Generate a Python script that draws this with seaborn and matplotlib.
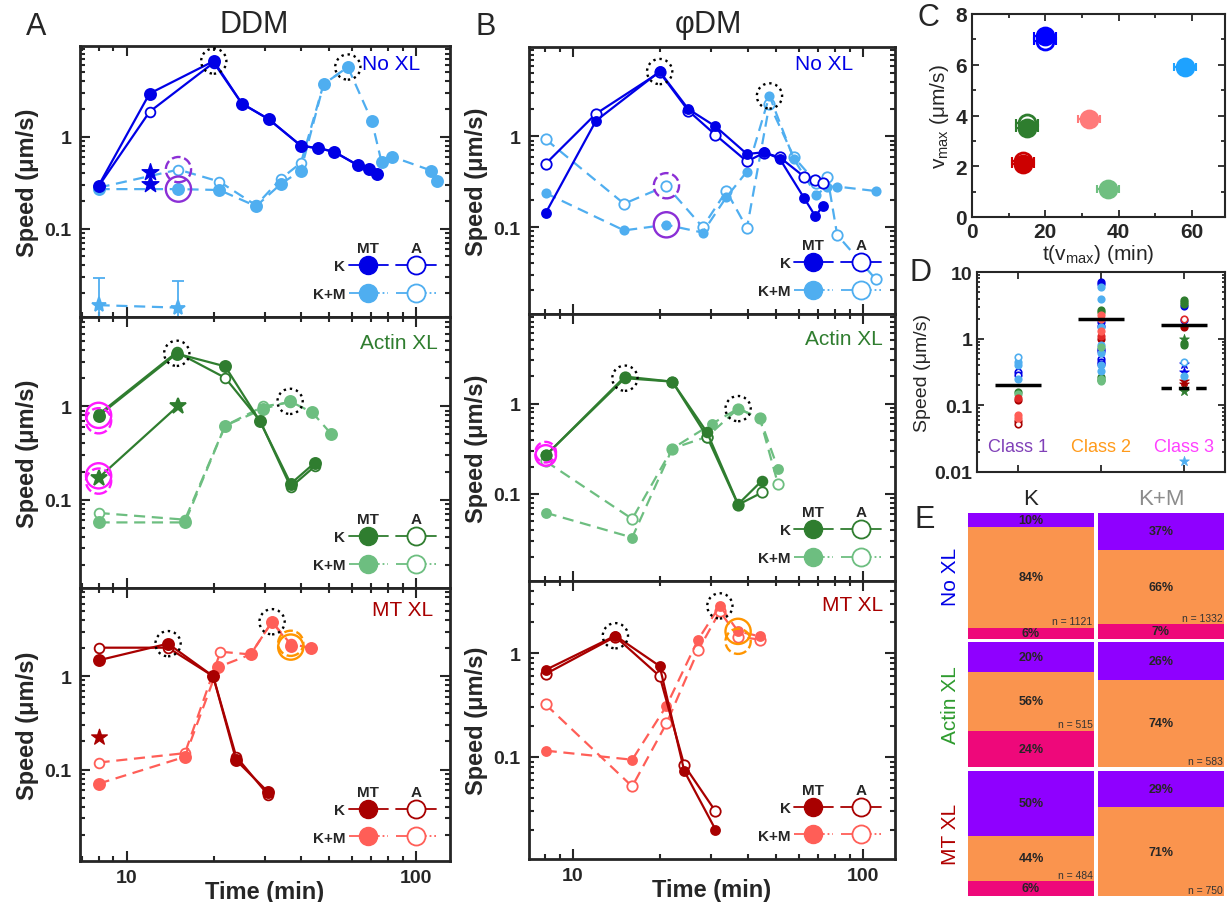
import matplotlib
import matplotlib.pyplot as plt
import pandas as pd
import seaborn as sns
from matplotlib.lines import Line2D
from matplotlib.ticker import FuncFormatter, MultipleLocator, NullFormatter

matplotlib.use("Agg")

# --- COLOURS ---
BLUE, LBLUE = "#0000E6", "#4FAEF0"
GREEN, LGREEN = "#2F7D2F", "#6DBE80"
DRED, SALMON = "#A80000", "#FF5E57"
RED = "#E02828"
PURPLE_RING, MAGENTA_RING, ORANGE_RING = "#8B2FD6", "#FF1AFF", "#FF9500"

# --- DATA: DDM, No XL ---
DDM_NO_K_MT_T = [8, 12, 20, 25, 31, 40, 46, 52, 63, 69, 73.5]
DDM_NO_K_MT_V = [0.295, 2.95, 6.65, 2.3, 1.55, 0.80, 0.75, 0.69, 0.49, 0.45, 0.39]
DDM_NO_K_A_T = [8, 12, 20, 25, 31, 40, 46, 52, 63, 69, 73.5]
DDM_NO_K_A_V = [0.29, 1.87, 6.4, 2.3, 1.55, 0.80, 0.75, 0.69, 0.49, 0.45, 0.39]
DDM_NO_KM_MT_T = [8, 15.1, 20.9, 28, 34.1, 40, 47.9, 58.1, 70.3, 76, 82.4, 112.7, 117.8]
DDM_NO_KM_MT_V = [0.27, 0.27, 0.264, 0.176, 0.307, 0.43, 3.72, 5.73, 1.49, 0.53, 0.61, 0.43, 0.33]
DDM_NO_KM_A_T = [8, 15.1, 20.9, 28, 34.1, 40, 47.9, 58.1]
DDM_NO_KM_A_V = [0.28, 0.44, 0.326, 0.18, 0.35, 0.52, 3.72, 5.73]
DDM_NO_STAR_T = [12, 12]
DDM_NO_STAR_V = [0.41, 0.307]
DDM_NO_KM_STAR_T = [8, 15.1]
DDM_NO_KM_STAR_V = [0.0148, 0.0139]
DDM_NO_KM_STAR_HI = [0.029, 0.027]
DDM_NO_KM_STAR_LO = [0.005, 0.005]
DDM_NO_PEAK_T = [20, 58.1]
DDM_NO_PEAK_V = [6.65, 5.73]
DDM_NO_C1_T = [15.1, 15.1]
DDM_NO_C1_V = [0.27, 0.44]

# --- DATA: DDM, Actin XL ---
DDM_AC_K_MT_T = [8, 14.9, 21.9, 28.9, 36.9, 44.8]
DDM_AC_K_MT_V = [0.79, 3.67, 2.68, 0.69, 0.148, 0.25]
DDM_AC_K_A_T = [8, 14.9, 21.9, 28.9, 36.9, 44.8]
DDM_AC_K_A_V = [0.82, 3.8, 2.02, 0.70, 0.136, 0.229]
DDM_AC_STAR_T = [8, 15]
DDM_AC_STAR_V = [0.171, 1.0]
DDM_AC_KM_MT_T = [8, 15.9, 21.9, 29.7, 36.7, 43.8, 50.8]
DDM_AC_KM_MT_V = [0.057, 0.057, 0.62, 0.94, 1.13, 0.86, 0.51]
DDM_AC_KM_A_T = [8, 15.9, 21.9, 29.7, 36.7]
DDM_AC_KM_A_V = [0.072, 0.061, 0.62, 1.0, 1.1]
DDM_AC_PEAK_T = [14.9, 36.7]
DDM_AC_PEAK_V = [3.7, 1.13]
DDM_AC_C3_T = [8, 8]
DDM_AC_C3_V = [0.8, 0.18]
DDM_AC_C3D_V = [0.70, 0.158]

# --- DATA: DDM, MT XL ---
DDM_MT_K_MT_T = [8, 13.9, 19.9, 23.9, 30.9]
DDM_MT_K_MT_V = [1.48, 2.23, 1.0, 0.126, 0.057]
DDM_MT_K_A_T = [8, 13.9, 19.9, 23.9, 30.9]
DDM_MT_K_A_V = [2.02, 2.02, 1.0, 0.138, 0.053]
DDM_MT_STAR_T = [8]
DDM_MT_STAR_V = [0.225]
DDM_MT_KM_MT_T = [8, 15.9, 20.7, 26.8, 31.8, 36.9, 43.5]
DDM_MT_KM_MT_V = [0.0706, 0.137, 1.25, 1.71, 3.83, 2.11, 2.02]
DDM_MT_KM_A_T = [8, 15.9, 21.1, 26.8, 31.8, 36.9, 43.5]
DDM_MT_KM_A_V = [0.119, 0.15, 1.83, 1.71, 3.83, 2.2, 2.02]
DDM_MT_PEAK_T = [13.9, 31.8]
DDM_MT_PEAK_V = [2.23, 3.83]
DDM_MT_C2_T = [36.9]
DDM_MT_C2_V = [2.05]
DDM_MT_C2D_V = [2.25]

# --- DATA: phiDM, No XL ---
PDM_NO_K_MT_T = [8.05, 12, 19.9, 25, 31, 39.8, 45.6, 51.6, 62.7, 68.6, 72.8]
PDM_NO_K_MT_V = [0.143, 1.49, 5.21, 2.0, 1.29, 0.64, 0.67, 0.57, 0.209, 0.131, 0.173]
PDM_NO_K_A_T = [8.05, 12, 19.9, 25, 31, 39.8, 45.6, 51.6, 62.7, 68.6, 72.8]
PDM_NO_K_A_V = [0.5, 1.78, 5.1, 1.92, 1.04, 0.53, 0.66, 0.59, 0.36, 0.33, 0.31]
PDM_NO_KM_MT_T = [8.05, 15, 21, 28, 33.8, 39.8, 47.6, 57.8, 69, 75.4, 81.5, 110.6]
PDM_NO_KM_MT_V = [0.237, 0.092, 0.106, 0.087, 0.214, 0.41, 2.81, 0.56, 0.227, 0.28, 0.28, 0.25]
PDM_NO_KM_A_T = [8.05, 15, 21, 28, 33.8, 39.8, 47.6, 57.8, 69, 75.4, 81.5, 110.6]
PDM_NO_KM_A_V = [0.93, 0.181, 0.286, 0.1, 0.25, 0.0975, 2.27, 0.59, 0.31, 0.36, 0.082, 0.0267]
PDM_NO_PEAK_T = [19.9, 47.6]
PDM_NO_PEAK_V = [5.2, 2.8]
PDM_NO_C1_T = [21, 21]
PDM_NO_C1_V = [0.106, 0.286]

# --- DATA: phiDM, Actin XL ---
PDM_AC_K_MT_T = [8.05, 15.1, 22, 29, 37.1, 44.9]
PDM_AC_K_MT_V = [0.267, 1.91, 1.75, 0.48, 0.077, 0.141]
PDM_AC_K_A_T = [8.05, 15.1, 22, 29, 37.1, 44.9]
PDM_AC_K_A_V = [0.267, 1.99, 1.75, 0.43, 0.076, 0.104]
PDM_AC_KM_MT_T = [8.05, 16, 22, 30.2, 37.1, 44.1, 50.9]
PDM_AC_KM_MT_V = [0.062, 0.033, 0.318, 0.6, 0.88, 0.69, 0.191]
PDM_AC_KM_A_T = [8.05, 16, 22, 29, 37.1, 44.1, 50.9]
PDM_AC_KM_A_V = [0.23, 0.053, 0.318, 0.43, 0.88, 0.69, 0.13]
PDM_AC_PEAK_T = [15.1, 37.1]
PDM_AC_PEAK_V = [1.91, 0.88]
PDM_AC_C3_T = [8.05]
PDM_AC_C3_V = [0.267]
PDM_AC_C3D_V = [0.29]

# --- DATA: phiDM, MT XL ---
PDM_MT_K_MT_T = [8.05, 14, 19.9, 24.2, 31]
PDM_MT_K_MT_V = [0.69, 1.47, 0.75, 0.073, 0.02]
PDM_MT_K_A_T = [8.05, 14, 19.9, 24.2, 31]
PDM_MT_K_A_V = [0.63, 1.44, 0.6, 0.083, 0.030]
PDM_MT_KM_MT_T = [8.05, 16, 21, 27, 32.1, 37.1, 44.1]
PDM_MT_KM_MT_V = [0.115, 0.094, 0.31, 1.35, 2.85, 1.62, 1.45]
PDM_MT_KM_A_T = [8.05, 16, 21, 27, 32.1, 37.1, 44.1]
PDM_MT_KM_A_V = [0.32, 0.052, 0.21, 1.06, 2.52, 1.44, 1.35]
PDM_MT_PEAK_T = [14, 32.1]
PDM_MT_PEAK_V = [1.47, 2.85]
PDM_MT_C2_T = [37.1]
PDM_MT_C2_V = [1.62]
PDM_MT_C2D_V = [1.3]

# --- DATA: panel C ---
C_T = [20, 20, 58, 32, 15, 15, 14, 14, 37]
C_V = [6.95, 7.15, 5.9, 3.85, 3.7, 3.5, 2.2, 2.1, 1.1]
C_TERR = [3, 3, 3, 3, 3, 3, 3, 3, 3]
C_COLOR = ["#0000FF", "#0000FF", "#1EA2FF", "#FF7A7A", "#2E7D2E", "#2E7D2E",
           "#CC0000", "#CC0000", "#6FBF80"]
C_FILLED = [False, True, True, True, False, True, False, True, True]

# --- DATA: panel D ---
D_CLASS = [0] * 14 + [1] * 28 + [2] * 18
D_SPEED = [0.53, 0.45, 0.40, 0.316, 0.29, 0.25, 0.158, 0.146, 0.13, 0.12, 0.072, 0.065, 0.058, 0.053,
           7.1, 6.5, 6.0, 3.9, 2.7, 2.5, 2.3, 2.0, 1.8, 1.55, 1.5, 1.3, 1.1, 1.0, 0.8, 0.75, 0.7, 0.65,
           0.6, 0.5, 0.45, 0.42, 0.4, 0.33, 0.27, 0.25, 0.24, 0.23,
           3.8, 3.5, 3.3, 3.05, 2.0, 1.9, 1.5, 1.0, 0.85, 0.8, 0.45, 0.42, 0.32, 0.28, 0.23, 0.21,
           0.165, 0.0145]
D_COLOR = ["lb", "lb", "lb", "b", "b", "lb", "g", "lg", "r", "dr", "sal", "sal", "dr", "dr",
           "b", "b", "lb", "lb", "g", "g", "sal", "sal", "b", "b", "lb", "sal", "r", "dr", "lb", "lg",
           "b", "b", "lb", "b", "b", "b", "lb", "lb", "g", "lg", "g", "lg",
           "g", "g", "g", "b", "r", "b", "dr", "g", "g", "g", "lb", "b", "b", "lb", "dr", "dr",
           "g", "lb"]
D_STYLE = ["o", "f", "f", "o", "o", "f", "f", "f", "f", "f", "f", "f", "f", "o",
           "f", "f", "f", "f", "f", "f", "f", "f", "o", "o", "f", "f", "f", "f", "f", "f",
           "o", "o", "f", "o", "o", "o", "f", "f", "f", "f", "f", "f",
           "f", "f", "f", "f", "o", "o", "f", "*", "f", "f", "o", "*", "*", "f", "*", "*",
           "*", "*"]
D_MEDIAN_X = [0, 1, 2, 2]
D_MEDIAN_V = [0.2, 2.0, 1.6, 0.18]
D_MEDIAN_LS = ["-", "-", "-", (0, (3, 2))]
D_CLASSES = ["Class 1", "Class 2", "Class 3"]
D_CLASS_COLORS = ["#8040B8", "#FF9A1A", "#FF40FF"]

# --- DATA: panel E (segment heights, labels as printed) ---
E_ROWS = ["No XL", "Actin XL", "MT XL"]
E_ROW_COLORS = [BLUE, "#2E9B2E", "#B00000"]
E_COLS = ["K", "K+M"]
E_PURPLE = [11, 29, 24, 30, 52, 29]
E_ORANGE = [80, 59, 47, 70, 36, 71]
E_PINK = [9, 12, 29, 0, 12, 0]
E_PURPLE_LBL = ["10%", "37%", "20%", "26%", "50%", "29%"]
E_ORANGE_LBL = ["84%", "66%", "56%", "74%", "44%", "71%"]
E_PINK_LBL = ["6%", "7%", "24%", "", "6%", ""]
E_N = [1121, 1332, 515, 583, 484, 750]

W, H = 1227, 903
DASH = (0, (5, 3))

sns.set_style("ticks")
plt.rcParams["font.family"] = ["Liberation Sans", "DejaVu Sans"]
plt.rcParams["font.weight"] = "bold"
plt.rcParams["axes.labelweight"] = "bold"
plt.rcParams["mathtext.default"] = "regular"

fig = plt.figure(figsize=(W / 100, H / 100), dpi=100)


def add_ax(l, t, r, b):
    return fig.add_axes([l / W, 1 - b / H, (r - l) / W, (b - t) / H])


def series(ax, t, v, color, filled, dashed, ms, marker="o"):
    sns.lineplot(x=t, y=v, ax=ax, sort=False, estimator=None, color=color,
                 linestyle=DASH if dashed else "-", linewidth=1.6,
                 marker=marker, markersize=ms,
                 markerfacecolor=color if filled else "white",
                 markeredgecolor=color, markeredgewidth=1.3)


def ring(ax, t, v, color, style, size=330, lw=1.7):
    ax.scatter(t, v, s=size, facecolors="none", edgecolors=color,
               linestyles=style, linewidths=lw, zorder=6)


def style_speed(ax, xlim, ylim, bottom_row):
    ax.set_xscale("log")
    ax.set_yscale("log")
    ax.set_xlim(*xlim)
    ax.set_ylim(*ylim)
    fmt = FuncFormatter(lambda v, p: f"{v:g}")
    ax.xaxis.set_major_formatter(fmt)
    ax.yaxis.set_major_formatter(fmt)
    ax.xaxis.set_minor_formatter(NullFormatter())
    ax.yaxis.set_minor_formatter(NullFormatter())
    ax.tick_params(which="both", direction="in", top=True, right=True, width=1.5,
                   labelsize=14, pad=6)
    ax.tick_params(which="major", length=7)
    ax.tick_params(which="minor", length=3.5)
    ax.tick_params(axis="x", labelbottom=bottom_row)
    for s in ax.spines.values():
        s.set_linewidth(2)
    ax.set_ylabel("Speed (μm/s)", fontsize=17)
    if bottom_row:
        ax.set_xlabel("Time (min)", fontsize=17)
        ax.xaxis.set_label_coords(0.5, -0.07)


def add_key(ax, dark, light):
    h = [Line2D([], [], color=dark, marker="o", ms=13, mfc=dark, lw=1.3),
         Line2D([], [], color=light, marker="o", ms=13, mfc=light, lw=1.3, ls="-."),
         Line2D([], [], color=dark, marker="o", ms=13, mfc="white", mew=1.3, lw=1.3),
         Line2D([], [], color=light, marker="o", ms=13, mfc="white", mew=1.3, lw=1.3, ls="-.")]
    leg = ax.legend(h, ["K", "K+M", "", ""], ncol=2, markerfirst=False, frameon=False,
                    loc="lower right", bbox_to_anchor=(0.99, 0.02), fontsize=11,
                    handlelength=2.6, handletextpad=0.2, columnspacing=0.3,
                    labelspacing=0.9, borderpad=0.2)
    return leg


def label_xl(ax, text, color, x, y):
    ax.text(x, y, text, transform=ax.transAxes, ha="right", va="center",
            color=color, fontsize=15, fontweight="normal")


keys = []

# ---------------- Panel A (DDM) ----------------
xl_a = (6.9, 131)
ax = add_ax(80, 47, 450, 318)
series(ax, DDM_NO_KM_A_T, DDM_NO_KM_A_V, LBLUE, False, True, 7)
series(ax, DDM_NO_KM_MT_T, DDM_NO_KM_MT_V, LBLUE, True, True, 8)
series(ax, DDM_NO_K_A_T, DDM_NO_K_A_V, BLUE, False, False, 7)
series(ax, DDM_NO_K_MT_T, DDM_NO_K_MT_V, BLUE, True, False, 8)
sns.scatterplot(x=DDM_NO_STAR_T, y=DDM_NO_STAR_V, ax=ax, marker="*", s=160, color=BLUE,
                edgecolor=BLUE, zorder=5)
series(ax, DDM_NO_KM_STAR_T, DDM_NO_KM_STAR_V, LBLUE, True, True, 11, marker="*")
ax.errorbar(DDM_NO_KM_STAR_T, DDM_NO_KM_STAR_V,
            yerr=[[v - lo for v, lo in zip(DDM_NO_KM_STAR_V, DDM_NO_KM_STAR_LO)],
                  [hi - v for v, hi in zip(DDM_NO_KM_STAR_V, DDM_NO_KM_STAR_HI)]],
            fmt="none", ecolor=LBLUE, elinewidth=1.3, capsize=4, capthick=1.3)
ring(ax, DDM_NO_PEAK_T, DDM_NO_PEAK_V, "black", ":")
ring(ax, DDM_NO_C1_T[:1], DDM_NO_C1_V[:1], PURPLE_RING, "-")
ring(ax, DDM_NO_C1_T[1:], DDM_NO_C1_V[1:], PURPLE_RING, "--")
style_speed(ax, xl_a, (0.011, 9.7), False)
label_xl(ax, "No XL", BLUE, 0.92, 0.935)
keys.append((ax, add_key(ax, BLUE, LBLUE)))

ax = add_ax(80, 318, 450, 589)
series(ax, DDM_AC_KM_A_T, DDM_AC_KM_A_V, LGREEN, False, True, 7)
series(ax, DDM_AC_KM_MT_T, DDM_AC_KM_MT_V, LGREEN, True, True, 8)
series(ax, DDM_AC_K_A_T, DDM_AC_K_A_V, GREEN, False, False, 7)
series(ax, DDM_AC_K_MT_T, DDM_AC_K_MT_V, GREEN, True, False, 8)
series(ax, DDM_AC_STAR_T, DDM_AC_STAR_V, GREEN, True, False, 12, marker="*")
ring(ax, DDM_AC_PEAK_T, DDM_AC_PEAK_V, "black", ":")
ring(ax, DDM_AC_C3_T, DDM_AC_C3_V, MAGENTA_RING, "-")
ring(ax, DDM_AC_C3_T, DDM_AC_C3D_V, MAGENTA_RING, "--")
style_speed(ax, xl_a, (0.0113, 9.06), False)
label_xl(ax, "Actin XL", GREEN, 0.967, 0.907)
keys.append((ax, add_key(ax, GREEN, LGREEN)))

ax = add_ax(80, 589, 450, 862)
series(ax, DDM_MT_KM_A_T, DDM_MT_KM_A_V, SALMON, False, True, 7)
series(ax, DDM_MT_KM_MT_T, DDM_MT_KM_MT_V, SALMON, True, True, 8)
series(ax, DDM_MT_K_A_T, DDM_MT_K_A_V, DRED, False, False, 7)
series(ax, DDM_MT_K_MT_T, DDM_MT_K_MT_V, DRED, True, False, 8)
sns.scatterplot(x=DDM_MT_STAR_T, y=DDM_MT_STAR_V, ax=ax, marker="*", s=140, color=DRED,
                edgecolor=DRED, zorder=5)
ring(ax, DDM_MT_PEAK_T, DDM_MT_PEAK_V, "black", ":")
ring(ax, DDM_MT_C2_T, DDM_MT_C2_V, ORANGE_RING, "-")
ring(ax, DDM_MT_C2_T, DDM_MT_C2D_V, ORANGE_RING, "--")
style_speed(ax, xl_a, (0.0105, 8.8), True)
label_xl(ax, "MT XL", DRED, 0.955, 0.92)
keys.append((ax, add_key(ax, DRED, SALMON)))

# ---------------- Panel B (phiDM) ----------------
xl_b = (7.05, 129)
ax = add_ax(529, 48, 895, 315)
series(ax, PDM_NO_KM_A_T, PDM_NO_KM_A_V, LBLUE, False, True, 7.5)
series(ax, PDM_NO_KM_MT_T, PDM_NO_KM_MT_V, LBLUE, True, True, 6)
series(ax, PDM_NO_K_A_T, PDM_NO_K_A_V, BLUE, False, False, 7.5)
series(ax, PDM_NO_K_MT_T, PDM_NO_K_MT_V, BLUE, True, False, 6.5)
ring(ax, PDM_NO_PEAK_T, PDM_NO_PEAK_V, "black", ":")
ring(ax, PDM_NO_C1_T[:1], PDM_NO_C1_V[:1], PURPLE_RING, "-")
ring(ax, PDM_NO_C1_T[1:], PDM_NO_C1_V[1:], PURPLE_RING, "--")
style_speed(ax, xl_b, (0.011, 9.7), False)
label_xl(ax, "No XL", BLUE, 0.885, 0.94)
keys.append((ax, add_key(ax, BLUE, LBLUE)))

ax = add_ax(529, 315, 895, 582)
series(ax, PDM_AC_KM_A_T, PDM_AC_KM_A_V, LGREEN, False, True, 7.5)
series(ax, PDM_AC_KM_MT_T, PDM_AC_KM_MT_V, LGREEN, True, True, 6.5)
series(ax, PDM_AC_K_A_T, PDM_AC_K_A_V, GREEN, False, False, 7.5)
series(ax, PDM_AC_K_MT_T, PDM_AC_K_MT_V, GREEN, True, False, 7)
ring(ax, PDM_AC_PEAK_T, PDM_AC_PEAK_V, "black", ":")
ring(ax, PDM_AC_C3_T, PDM_AC_C3_V, MAGENTA_RING, "-", size=220)
ring(ax, PDM_AC_C3_T, PDM_AC_C3D_V, MAGENTA_RING, "--", size=220)
style_speed(ax, xl_b, (0.0109, 9.8), False)
label_xl(ax, "Actin XL", GREEN, 0.967, 0.91)
keys.append((ax, add_key(ax, GREEN, LGREEN)))

ax = add_ax(529, 582, 895, 860)
series(ax, PDM_MT_KM_A_T, PDM_MT_KM_A_V, SALMON, False, True, 7.5)
series(ax, PDM_MT_KM_MT_T, PDM_MT_KM_MT_V, SALMON, True, True, 6.5)
series(ax, PDM_MT_K_A_T, PDM_MT_K_A_V, DRED, False, False, 7.5)
series(ax, PDM_MT_K_MT_T, PDM_MT_K_MT_V, DRED, True, False, 6.5)
ring(ax, PDM_MT_PEAK_T, PDM_MT_PEAK_V, "black", ":")
ring(ax, PDM_MT_C2_T, PDM_MT_C2_V, ORANGE_RING, "-")
ring(ax, PDM_MT_C2_T, PDM_MT_C2D_V, ORANGE_RING, "--")
style_speed(ax, xl_b, (0.0104, 4.95), True)
label_xl(ax, "MT XL", DRED, 0.967, 0.914)
keys.append((ax, add_key(ax, DRED, SALMON)))

# ---------------- Panel C ----------------
ax = add_ax(972, 15, 1225, 218)
for t, v, e, c, f in zip(C_T, C_V, C_TERR, C_COLOR, C_FILLED):
    ax.errorbar([t], [v], xerr=[e], fmt="none", ecolor=c, elinewidth=1.5,
                capsize=3, capthick=1.5, zorder=2)
    sns.scatterplot(x=[t], y=[v], ax=ax, s=150, color=c if f else "white",
                    edgecolor=c, linewidth=2, zorder=3)
ax.set_xlim(0, 69)
ax.set_ylim(0, 8)
ax.xaxis.set_major_locator(MultipleLocator(20))
ax.xaxis.set_minor_locator(MultipleLocator(10))
ax.yaxis.set_major_locator(MultipleLocator(2))
ax.yaxis.set_minor_locator(MultipleLocator(1))
ax.tick_params(which="both", direction="in", top=True, right=True, width=1.3, labelsize=15)
ax.tick_params(which="major", length=5)
ax.tick_params(which="minor", length=3)
for s in ax.spines.values():
    s.set_linewidth(1.5)
ax.set_xlabel("t(v$_{max}$) (min)", fontsize=15, fontweight="normal", labelpad=1)
ax.set_ylabel("v$_{max}$ (μm/s)", fontsize=15, fontweight="normal", labelpad=3)

# ---------------- Panel D ----------------
ax = add_ax(977, 273, 1225, 473)
df = pd.DataFrame({"cls": D_CLASS, "speed": D_SPEED, "col": D_COLOR, "sty": D_STYLE})
cmap = {"b": BLUE, "lb": LBLUE, "g": GREEN, "lg": LGREEN, "r": RED, "dr": DRED, "sal": SALMON}
for (ckey, sty), sub in df.groupby(["col", "sty"]):
    c = cmap[ckey]
    if sty == "*":
        sns.scatterplot(data=sub, x="cls", y="speed", ax=ax, marker="*", s=55, color=c,
                        edgecolor=c, linewidth=0.5, zorder=3)
    else:
        sns.scatterplot(data=sub, x="cls", y="speed", ax=ax, marker="o", s=22,
                        color=c if sty == "f" else "white", edgecolor=c, linewidth=1.2, zorder=3)
for x, v, ls in zip(D_MEDIAN_X, D_MEDIAN_V, D_MEDIAN_LS):
    ax.hlines(v, x - 0.28, x + 0.28, colors="black", linewidth=2.5, linestyles=ls, zorder=4)
for i, (lab, c) in enumerate(zip(D_CLASSES, D_CLASS_COLORS)):
    ax.text(i, 0.024, lab, color=c, ha="center", va="center", fontsize=13, fontweight="normal")
ax.set_yscale("log")
ax.set_ylim(0.01, 10)
ax.set_xlim(-0.5, 2.5)
ax.set_xticks([0, 1, 2])
ax.set_xticklabels([])
ax.yaxis.set_major_formatter(FuncFormatter(lambda v, p: f"{v:g}"))
ax.yaxis.set_minor_formatter(NullFormatter())
ax.tick_params(which="both", direction="in", top=True, right=True, width=1.3, labelsize=14)
ax.tick_params(which="major", length=5)
ax.tick_params(which="minor", length=2.5)
for s in ax.spines.values():
    s.set_linewidth(1.5)
ax.set_xlabel("")
ax.set_ylabel("Speed (μm/s)", fontsize=14, fontweight="normal", labelpad=2)

# ---------------- Panel E ----------------
E_X = [(968, 1094), (1098, 1224)]
E_Y = [(514, 640), (643, 768), (772, 897)]
PURPLE, ORANGE, PINK = "#8F00FF", "#FA944E", "#EE087A"
for r in range(3):
    for c in range(2):
        i = r * 2 + c
        ax = add_ax(E_X[c][0], E_Y[r][0], E_X[c][1], E_Y[r][1])
        hk, ho, hp = E_PINK[i], E_ORANGE[i], E_PURPLE[i]
        ax.bar(0, hk, bottom=0, width=1, color=PINK, linewidth=0)
        ax.bar(0, ho, bottom=hk, width=1, color=ORANGE, linewidth=0)
        ax.bar(0, hp, bottom=hk + ho, width=1, color=PURPLE, linewidth=0)
        for h, b, lab in [(hk, 0, E_PINK_LBL[i]), (ho, hk, E_ORANGE_LBL[i]),
                          (hp, hk + ho, E_PURPLE_LBL[i])]:
            if h > 0:
                ax.text(0, b + h / 2, lab, ha="center", va="center", fontsize=9)
        ax.text(0.49, hk + 1, f"n = {E_N[i]}", ha="right", va="bottom", fontsize=7.5,
                fontweight="normal", color="#333333")
        ax.set_xlim(-0.5, 0.5)
        ax.set_ylim(0, 100)
        ax.axis("off")

for lab, c, (y0, y1) in zip(E_ROWS, E_ROW_COLORS, E_Y):
    fig.text(950 / W, 1 - (y0 + y1) / 2 / H, lab, rotation=90, color=c, ha="center",
             va="center", fontsize=15, fontweight="normal")
fig.text(1031 / W, 1 - 500 / H, E_COLS[0], ha="center", va="center", fontsize=16,
         fontweight="normal")
fig.text(1161 / W, 1 - 500 / H, E_COLS[1], ha="center", va="center", fontsize=16,
         fontweight="normal", color="#8C8C8C")

# ---------------- titles and panel letters ----------------
for x, y, s in [(36, 27, "A"), (486, 27, "B"), (928, 18, "C"), (920, 273, "D"), (925, 520, "E")]:
    fig.text(x / W, 1 - y / H, s, ha="center", va="center", fontsize=22, fontweight="normal")
fig.text(254 / W, 1 - 25 / H, "DDM", ha="center", va="center", fontsize=22, fontweight="normal")
fig.text(707 / W, 1 - 25 / H, r"$\varphi$DM", ha="center", va="center", fontsize=22,
         fontweight="normal")

# column headers of the in-panel keys
fig.canvas.draw()
rend = fig.canvas.get_renderer()
for ax, leg in keys:
    for idx, txt in [(0, "MT"), (2, "A")]:
        bb = leg.legend_handles[idx].get_window_extent(rend)
        x, y = ax.transAxes.inverted().transform(((bb.x0 + bb.x1) / 2, bb.y1 + 1))
        ax.text(x, y, txt, transform=ax.transAxes, ha="center", va="bottom", fontsize=11)

fig.savefig("out.png", dpi=100)
